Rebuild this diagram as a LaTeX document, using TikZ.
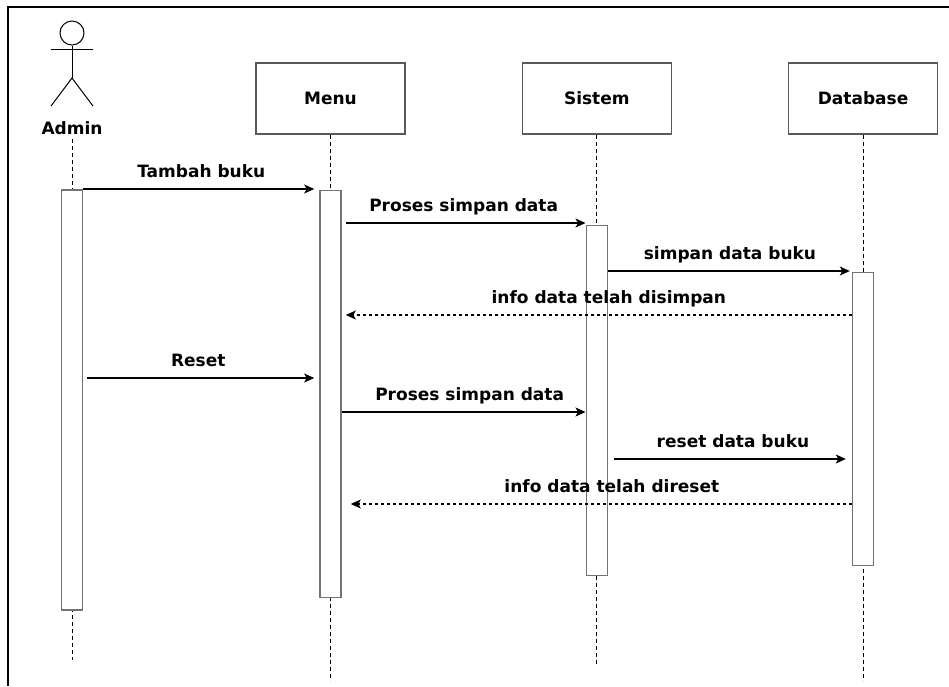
\documentclass[tikz,border=0pt]{standalone}
\usepackage{fontspec}
\setmainfont{DejaVu Sans}
\usetikzlibrary{positioning}
\usetikzlibrary{arrows.meta}

\tikzset{
  txt/.style={font=\bfseries\fontsize{17}{20}\selectfont},
  head/.style={txt, draw=black!65, line width=1.3pt, minimum width=149pt, minimum height=71pt, inner sep=0pt},
  bar/.style={draw=black!55, line width=1.6pt, fill=white, minimum width=21pt, inner sep=0pt, anchor=north},
  life/.style={dash pattern=on 4pt off 3pt, line width=0.9pt},
  msg/.style={line width=1.2pt, -{Stealth[length=10pt,width=9pt,inset=2.5pt]}},
  reply/.style={msg, dash pattern=on 3pt off 3pt},
  lbl/.style={txt, above=11pt, inner sep=0pt, text depth=0pt}
}

\begin{document}
\begin{tikzpicture}[x=1pt, y=-1pt]
\useasboundingbox (0,0) rectangle (949,686);
\draw[line width=1.3pt] (8,686) -- (8,7) -- (949,7);

\node (adminhead) [circle, draw, line width=1pt, minimum size=24pt, inner sep=0pt] at (72,33) {};
\coordinate (hip) at (72,78);
\draw[line width=1pt] (adminhead.south) -- (hip);
\draw[line width=1pt] (51,49) -- (93,49);
\draw[line width=1pt] (51,106) -- (hip) -- (93,106);
\node (admin) [txt, inner sep=0pt] at (72,128) {Admin};

\node (menu)               [head] at (330.5,98.5) {Menu};
\node (sistem)   [head, right=116pt of menu]   {Sistem};
\node (database) [head, right=116pt of sistem] {Database};

\draw[life] (admin.south) ++(0,4) -- ++(0,521);
\draw[life] (menu.south) -- ++(0,546);
\draw[life] (sistem.south) -- ++(0,531);
\draw[life] (database.south) -- ++(0,546);

\node (adminbar) [bar, minimum height=420pt] at (72,189) {};
\node (menubar)  [bar, minimum height=407pt, below=55pt of menu] {};
\node (sisbar)   [bar, minimum height=350pt, below=90pt of sistem] {};
\node (dbbar)    [bar, minimum height=293pt, below=137pt of database] {};

\coordinate (m1) at (0,189);
\coordinate (m2) at (0,223);
\coordinate (m3) at (0,271);
\coordinate (m4) at (0,315);
\coordinate (m5) at (0,378);
\coordinate (m6) at (0,412);
\coordinate (m7) at (0,459);
\coordinate (m8) at (0,504);

\draw[msg, shorten >=5pt] (adminbar.east |- m1) -- (menubar.west |- m1) node[lbl, midway] {Tambah buku};
\draw[msg, shorten <=4pt] (menubar.east |- m2) -- (sisbar.west |- m2) node[lbl, midway] {Proses simpan data};
\draw[msg, shorten >=2pt] (sisbar.east |- m3) -- (dbbar.west |- m3) node[lbl, midway] {simpan data buku};
\draw[reply, shorten >=4pt] (dbbar.west |- m4) -- (menubar.east |- m4) node[lbl, midway, xshift=12pt] {info data telah disimpan};
\draw[msg, shorten <=4pt, shorten >=5pt] (adminbar.east |- m5) -- (menubar.west |- m5) node[lbl, midway, xshift=-3pt] {Reset};
\draw[msg] (menubar.east |- m6) -- (sisbar.west |- m6) node[lbl, midway, xshift=6pt] {Proses simpan data};
\draw[msg, shorten <=6pt, shorten >=6pt] (sisbar.east |- m7) -- (dbbar.west |- m7) node[lbl, midway, xshift=3pt] {reset data buku};
\draw[reply, shorten >=9pt] (dbbar.west |- m8) -- (menubar.east |- m8) node[lbl, midway, xshift=15pt] {info data telah direset};
\end{tikzpicture}
\end{document}
